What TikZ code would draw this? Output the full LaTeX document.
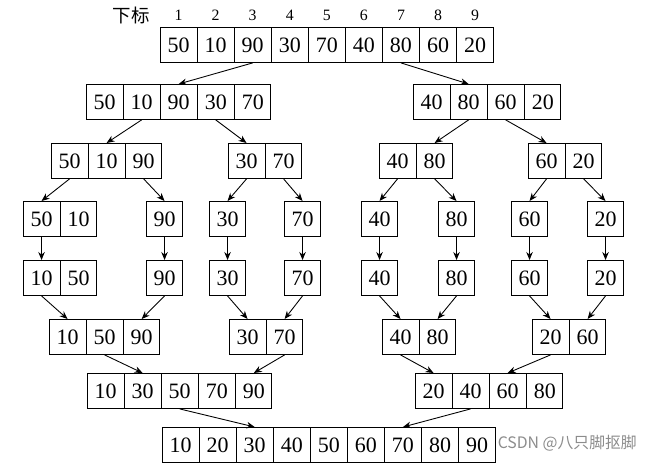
\documentclass[tikz,border=0pt]{standalone}
\usepackage{fontspec}
\setmainfont{Liberation Serif}
\newfontfamily\cjkfont{Noto Sans CJK SC}
\usetikzlibrary{arrows.meta}
\usetikzlibrary{shapes.multipart}

\begin{document}
\begin{tikzpicture}[
    x=0.02cm, y=-0.02cm,
    seq/.style={rectangle split, rectangle split horizontal, draw=black, line width=0.6pt, inner xsep=4pt, inner ysep=5.7pt, anchor=north west, font=\fontsize{12.5}{14}\selectfont},
    cell/.style={rectangle, draw=black, line width=0.6pt, inner xsep=4pt, inner ysep=5.7pt, anchor=north west, font=\fontsize{12.5}{14}\selectfont},
    arrow/.style={-{Stealth[length=1.6mm, width=1.3mm]}, line width=0.5pt},
    idx/.style={font=\fontsize{9}{10}\selectfont}
]
\useasboundingbox (0,0) rectangle (657,467);

% original array
\node[font=\cjkfont\fontsize{10.5}{12}\selectfont] (lbl) at (131,15) {下标};
\node[seq, rectangle split parts=9] (A) at (160,27) {50 \nodepart{two} 10 \nodepart{three} 90 \nodepart{four} 30 \nodepart{five} 70 \nodepart{six} 40 \nodepart{seven} 80 \nodepart{eight} 60 \nodepart{nine} 20};
\foreach \p/\i in {one north/1, two north/2, three north/3, four north/4, five north/5, six north/6, seven north/7, eight north/8, nine north/9}
    \node[idx] (i\i) at ([yshift=0.24cm]A.\p) {\i};

% splitting
\node[seq, rectangle split parts=5] (B1) at (86,84) {50 \nodepart{two} 10 \nodepart{three} 90 \nodepart{four} 30 \nodepart{five} 70};
\node[seq, rectangle split parts=4] (B2) at (413,84) {40 \nodepart{two} 80 \nodepart{three} 60 \nodepart{four} 20};

\node[seq, rectangle split parts=3] (C1) at (51,143) {50 \nodepart{two} 10 \nodepart{three} 90};
\node[seq, rectangle split parts=2] (C2) at (228,143) {30 \nodepart{two} 70};
\node[seq, rectangle split parts=2] (C3) at (379,143) {40 \nodepart{two} 80};
\node[seq, rectangle split parts=2] (C4) at (528,143) {60 \nodepart{two} 20};

\node[seq, rectangle split parts=2] (D1) at (23,201) {50 \nodepart{two} 10};
\node[cell] (D2) at (146,201) {90};
\node[cell] (D3) at (209,201) {30};
\node[cell] (D4) at (284,201) {70};
\node[cell] (D5) at (361,201) {40};
\node[cell] (D6) at (438,201) {80};
\node[cell] (D7) at (511,201) {60};
\node[cell] (D8) at (587,201) {20};

% merging
\node[seq, rectangle split parts=2] (E1) at (23,260) {10 \nodepart{two} 50};
\node[cell] (E2) at (146,260) {90};
\node[cell] (E3) at (209,260) {30};
\node[cell] (E4) at (284,260) {70};
\node[cell] (E5) at (361,260) {40};
\node[cell] (E6) at (438,260) {80};
\node[cell] (E7) at (511,260) {60};
\node[cell] (E8) at (587,260) {20};

\node[seq, rectangle split parts=3] (F1) at (49,319) {10 \nodepart{two} 50 \nodepart{three} 90};
\node[seq, rectangle split parts=2] (F2) at (229,319) {30 \nodepart{two} 70};
\node[seq, rectangle split parts=2] (F3) at (382,319) {40 \nodepart{two} 80};
\node[seq, rectangle split parts=2] (F4) at (532,319) {20 \nodepart{two} 60};

\node[seq, rectangle split parts=5] (G1) at (87,373) {10 \nodepart{two} 30 \nodepart{three} 50 \nodepart{four} 70 \nodepart{five} 90};
\node[seq, rectangle split parts=4] (G2) at (415,373) {20 \nodepart{two} 40 \nodepart{three} 60 \nodepart{four} 80};

\node[seq, rectangle split parts=9] (H) at (162,427) {10 \nodepart{two} 20 \nodepart{three} 30 \nodepart{four} 40 \nodepart{five} 50 \nodepart{six} 60 \nodepart{seven} 70 \nodepart{eight} 80 \nodepart{nine} 90};

\draw[arrow] (A.three south) -- (B1.three north);
\draw[arrow] (A.seven south) -- (B2.two north);
\draw[arrow] (B1.two south) -- (C1.two north);
\draw[arrow] (B1.four south) -- (C2.one north);
\draw[arrow] (B2.two south) -- (C3.two north);
\draw[arrow] (B2.three south) -- (C4.one north);

\draw[arrow] (C1.one south) -- (D1.one north);
\draw[arrow] (C1.three south) -- (D2.north);
\draw[arrow] (C2.one south) -- (D3.north);
\draw[arrow] (C2.two south) -- (D4.north);
\draw[arrow] (C3.one south) -- (D5.north);
\draw[arrow] (C3.two south) -- (D6.north);
\draw[arrow] (C4.one south) -- (D7.north);
\draw[arrow] (C4.two south) -- (D8.north);

\draw[arrow] (D1.one south) -- (E1.one north);
\foreach \n in {2,...,8}
    \draw[arrow] (D\n.south) -- (E\n.north);

\draw[arrow] (E1.one south) -- (F1.one north);
\draw[arrow] (E2.south) -- (F1.three north);
\draw[arrow] (E3.south) -- (F2.one north);
\draw[arrow] (E4.south) -- (F2.two north);
\draw[arrow] (E5.south) -- (F3.one north);
\draw[arrow] (E6.south) -- (F3.two north);
\draw[arrow] (E7.south) -- (F4.one north);
\draw[arrow] (E8.south) -- (F4.two north);

\draw[arrow] (F1.two south) -- (G1.two north);
\draw[arrow] (F2.two south) -- (G1.five north);
\draw[arrow] (F3.one south) -- (G2.one north);
\draw[arrow] (F4.one south) -- (G2.three north);

\draw[arrow] (G1.three south) -- (H.three north);
\draw[arrow] (G2.two south) -- (H.seven north);

% watermark
\node[font=\cjkfont\fontsize{9}{11}\selectfont, text=black!45, anchor=west, inner xsep=1pt] (wm) at (H.east |- 0,443) {CSDN @八只脚抠脚};
\end{tikzpicture}
\end{document}
